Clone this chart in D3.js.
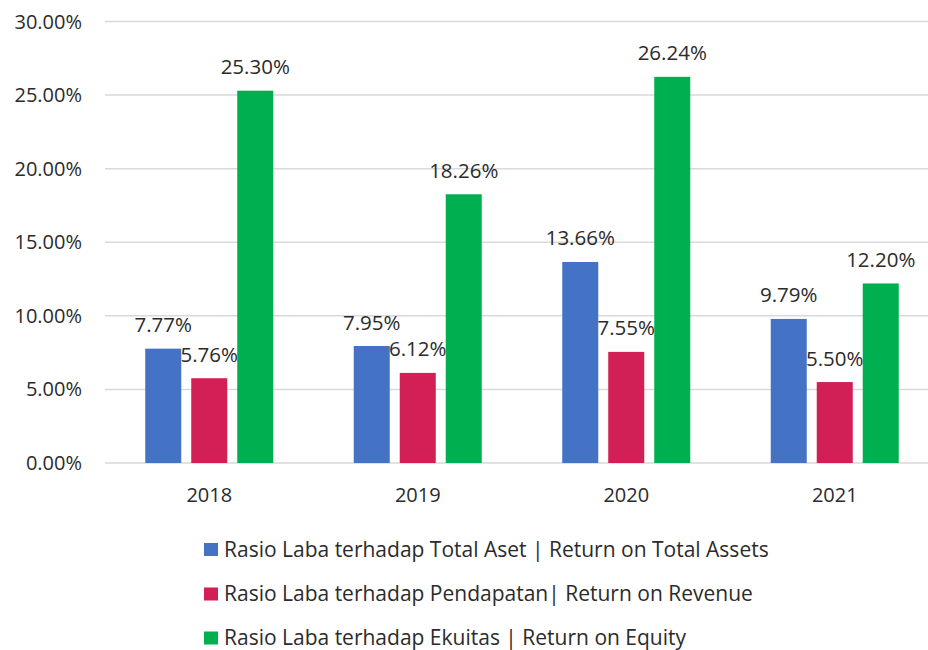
<!DOCTYPE html>
<html>
<head>
<meta charset="utf-8">
<script src="https://cdn.jsdelivr.net/npm/d3@7"></script>
<style>
  body { margin: 0; background: #fff; }
  svg { display: block; }
  text { font-family: "Open Sans", "Noto Sans", sans-serif; fill: #2b2b2b; }
</style>
</head>
<body>
<div id="chart"></div>
<script>
// data
var years = ["2018", "2019", "2020", "2021"];
var seriesNames = [
    "Rasio Laba terhadap Total Aset | Return on Total Assets",
    "Rasio Laba terhadap Pendapatan| Return on Revenue",
    "Rasio Laba terhadap Ekuitas | Return on Equity"
];
var returnOnAssets = [0.0777, 0.0795, 0.1366, 0.0979];
var returnOnRevenue = [0.0576, 0.0612, 0.0755, 0.0550];
var returnOnEquity = [0.2530, 0.1826, 0.2624, 0.1220];
var yTicks = [0, 0.05, 0.10, 0.15, 0.20, 0.25, 0.30];
var colors = ["#4472C4", "#D21F55", "#00B050"];

var allSeries = [returnOnAssets, returnOnRevenue, returnOnEquity];

var width = 928, height = 650;

var svg = d3.select("#chart").append("svg")
    .attr("width", width)
    .attr("height", height);

var x0 = d3.scaleBand()
    .domain(years)
    .range([105, 939]);

var x1 = d3.scaleBand()
    .domain(d3.range(seriesNames.length))
    .range([0, 128])
    .paddingInner(0.217);

var y = d3.scaleLinear()
    .domain([0, 0.30])
    .range([463, 21.5]);

// gridlines
svg.append("g")
    .selectAll("line")
    .data(yTicks)
    .enter().append("line")
    .attr("x1", 105)
    .attr("x2", 939)
    .attr("y1", function(d) { return y(d); })
    .attr("y2", function(d) { return y(d); })
    .attr("stroke", "#d9d9d9")
    .attr("stroke-width", 1.5);

// y tick labels
svg.append("g")
    .selectAll("text")
    .data(yTicks)
    .enter().append("text")
    .attr("x", 82)
    .attr("y", function(d) { return y(d); })
    .attr("dy", "0.35em")
    .attr("text-anchor", "end")
    .style("font-size", "20px")
    .text(function(d) { return d3.format(".2%")(d); });

// x labels
svg.append("g")
    .selectAll("text")
    .data(years)
    .enter().append("text")
    .attr("x", function(d) { return x0(d) + x0.bandwidth() / 2; })
    .attr("y", 502)
    .attr("text-anchor", "middle")
    .style("font-size", "20px")
    .text(function(d) { return d; });

// bars
var groups = svg.append("g")
    .selectAll("g")
    .data(years)
    .enter().append("g")
    .attr("transform", function(d) {
        return "translate(" + (x0(d) + (x0.bandwidth() - 128) / 2) + ",0)";
    });

groups.selectAll("rect")
    .data(function(d, i) {
        return allSeries.map(function(s, k) { return { k: k, v: s[i] }; });
    })
    .enter().append("rect")
    .attr("x", function(d) { return x1(d.k); })
    .attr("width", x1.bandwidth())
    .attr("y", function(d) { return y(d.v); })
    .attr("height", function(d) { return y(0) - y(d.v); })
    .attr("fill", function(d) { return colors[d.k]; });

// value labels
groups.selectAll("text")
    .data(function(d, i) {
        return allSeries.map(function(s, k) { return { k: k, v: s[i] }; });
    })
    .enter().append("text")
    .attr("x", function(d) { return x1(d.k) + x1.bandwidth() / 2; })
    .attr("y", function(d) { return y(d.v) - 16.5; })
    .attr("text-anchor", "middle")
    .style("font-size", "20.5px")
    .text(function(d) { return d3.format(".2%")(d.v); });

// legend
var legendY = [549.5, 594, 638];
var legend = svg.append("g")
    .selectAll("g")
    .data(seriesNames)
    .enter().append("g")
    .attr("transform", function(d, i) { return "translate(204," + legendY[i] + ")"; });

legend.append("rect")
    .attr("x", 0)
    .attr("y", -6.5)
    .attr("width", 14)
    .attr("height", 13)
    .attr("fill", function(d, i) { return colors[i]; });

legend.append("text")
    .attr("x", 20)
    .attr("y", 0)
    .attr("dy", "0.35em")
    .style("font-size", "21px")
    .text(function(d) { return d; });
</script>
</body>
</html>
